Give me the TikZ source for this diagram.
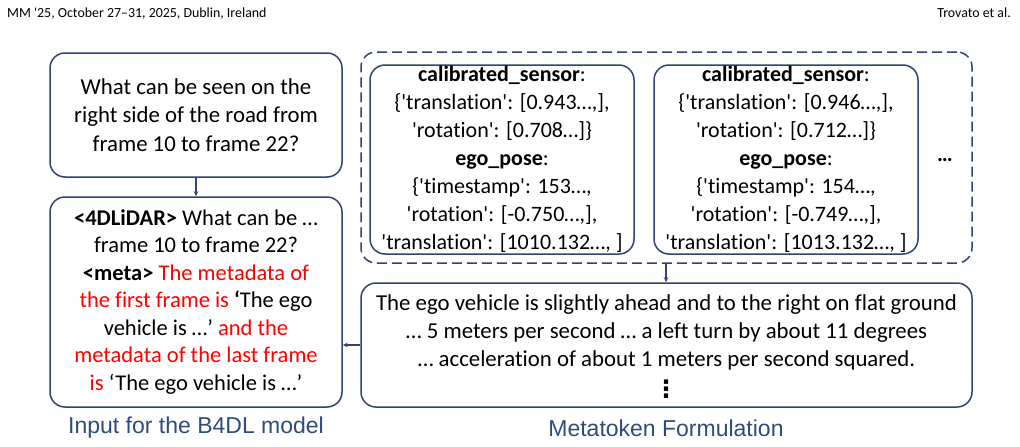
\documentclass[tikz,border=0pt]{standalone}
\usepackage{fontspec}
\setmainfont{Carlito}[Ligatures={TeXOff,NoCommon}]
\newfontfamily\labelfont{Liberation Sans}
\newfontfamily\dejavu{DejaVu Sans}
\usetikzlibrary{arrows.meta}
\definecolor{navy}{RGB}{47,68,112}
\definecolor{lblue}{RGB}{47,75,124}
\definecolor{myred}{RGB}{255,0,0}
\begin{document}
\begin{tikzpicture}[x=1pt,y=-1pt,
  box/.style={draw=navy,line width=1.5pt,rounded corners=15pt,align=center,inner sep=0pt,
     font=\fontsize{22.8}{28.5}\selectfont},
  txt/.style={align=center,inner sep=0pt,font=\fontsize{22.8}{28}\selectfont},
  dbox/.style={draw=navy,line width=1.5pt,rounded corners=15pt,dash pattern=on 10pt off 5pt},
  arr/.style={draw=navy,line width=1.2pt,-{Stealth[length=5pt,width=4.5pt]}},
  lbl/.style={text=lblue,font=\labelfont\fontsize{23}{27}\selectfont},
  hdr/.style={font=\fontsize{13.9}{16}\selectfont,inner sep=0pt}]
\useasboundingbox (0,0) rectangle (1020,447);
\node[hdr,anchor=base west] (h1) at (7,17) {MM '25, October 27–31, 2025, Dublin, Ireland};
\node[hdr,anchor=base east] (h2) at (1011,17) {Trovato et al.};

\node[box,minimum width=292pt,minimum height=124pt] (q) at (196,115)
 {What can be seen on the\\ right side of the road from\\ frame 10 to frame 22?};
\node[box,minimum width=292pt,minimum height=210pt,font=\fontsize{22.5}{27.5}\selectfont] (inp) at (196,302)
 {\textbf{<4DLiDAR>} What can be …\\ frame 10 to frame 22?\\
  \textbf{<meta>} \textcolor{myred}{The metadata of}\\
  \textcolor{myred}{the first frame is} \textbf{‘}The ego\\
  vehicle is …’ \textcolor{myred}{and the}\\
  \textcolor{myred}{metadata of the last frame}\\
  \textcolor{myred}{is} ‘The ego vehicle is …’};

\node[dbox,minimum width=611pt,minimum height=211pt] (dash) at (666.5,157.5) {};
\node[box,minimum width=264pt,minimum height=189pt,font=\fontsize{22}{28}\selectfont] (m1) at (502,159.5)
 {\textbf{calibrated\_sensor}:\\ \{'translation': [0.943…,],\\ 'rotation': [0.708…]\}\\
  \textbf{ego\_pose}:\\ \{'timestamp': 153…,\\ 'rotation': [-0.750…,],\\ 'translation': [1010.132…, ]};
\node[box,minimum width=264pt,minimum height=189pt,font=\fontsize{22}{28}\selectfont] (m2) at (786,159.5)
 {\textbf{calibrated\_sensor}:\\ \{'translation': [0.946…,],\\ 'rotation': [0.712…]\}\\
  \textbf{ego\_pose}:\\ \{'timestamp': 154…,\\ 'rotation': [-0.749…,],\\ 'translation': [1013.132…, ]};
\node[font=\fontsize{22}{26}\selectfont\bfseries,inner sep=0pt] (dots) at (945,160) {…};

\node[box,minimum width=611pt,minimum height=124pt] (meta) at (666.5,345) {};
\node[txt] (metatext) at (666.5,332) {The ego vehicle is slightly ahead and to the right on flat ground\\
  … 5 meters per second … a left turn by about 11 degrees\\
  … acceleration of about 1 meters per second squared.};
\node[font=\dejavu\bfseries\fontsize{24}{26}\selectfont,inner sep=0pt] (vd) at (666,389) {⋮};

\draw[arr] (q.south) -- (inp.north);
\draw[arr] (dash.south -| 666,0) -- (meta.north -| 666,0);
\draw[arr] (meta.west) -- (meta.west -| inp.east);

\node[lbl] (l1) at (196,428) {Input for the B4DL model};
\node[lbl] (l2) at (666,428) {Metatoken Formulation};
\end{tikzpicture}
\end{document}
